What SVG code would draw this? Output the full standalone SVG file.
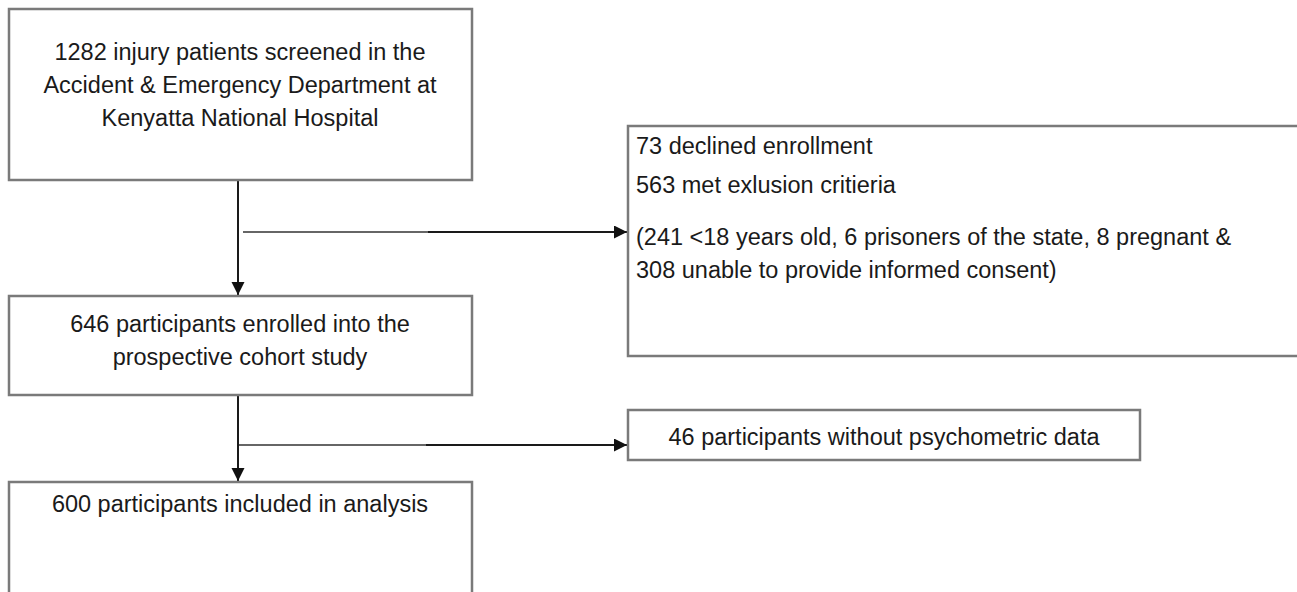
<svg xmlns="http://www.w3.org/2000/svg" width="1297" height="592" viewBox="0 0 1297 592">
<style>
.box{fill:#fff;stroke:#7a7a7a;stroke-width:2.5}
.t{font-family:"Liberation Sans",Arial,sans-serif;font-size:23.5px;fill:#1a1a1a}
.c{text-anchor:middle}
.ln{stroke:#1a1a1a;stroke-width:2;fill:none}
.lg{stroke:#666;stroke-width:2;fill:none}
</style>
<defs>
<marker id="ah" markerWidth="14" markerHeight="14" refX="13" refY="6.5" orient="auto" markerUnits="userSpaceOnUse">
<path d="M0,0 L13,6.5 L0,13 Z" fill="#111"/>
</marker>
</defs>
<rect width="1297" height="592" fill="#fff"/>
<g id="connectors">
<line class="ln" x1="238" y1="181" x2="238" y2="295" marker-end="url(#ah)"/>
<line class="lg" x1="243" y1="232" x2="428" y2="232"/>
<line class="ln" x1="428" y1="232" x2="627" y2="232" marker-end="url(#ah)"/>
<line class="ln" x1="238" y1="396" x2="238" y2="481" marker-end="url(#ah)"/>
<line class="lg" x1="239" y1="445" x2="426" y2="445"/>
<line class="ln" x1="426" y1="445" x2="627" y2="445" marker-end="url(#ah)"/>
</g>
<g id="n1">
<rect class="box" x="9" y="9" width="463" height="171"/>
<text class="t c" x="240" y="60">1282 injury patients screened in the</text>
<text class="t c" x="240" y="93">Accident &amp; Emergency Department at</text>
<text class="t c" x="240" y="126">Kenyatta National Hospital</text>
</g>
<g id="n2">
<rect class="box" x="628" y="126" width="680" height="230"/>
<text class="t" x="636" y="154">73 declined enrollment</text>
<text class="t" x="636" y="193">563 met exlusion critieria</text>
<text class="t" x="636" y="245">(241 &lt;18 years old, 6 prisoners of the state, 8 pregnant &amp;</text>
<text class="t" x="636" y="278">308 unable to provide informed consent)</text>
</g>
<g id="n3">
<rect class="box" x="9" y="296" width="463" height="99"/>
<text class="t c" x="240" y="332">646 participants enrolled into the</text>
<text class="t c" x="240" y="365">prospective cohort study</text>
</g>
<g id="n4">
<rect class="box" x="628" y="410" width="512" height="50"/>
<text class="t c" x="884" y="445">46 participants without psychometric data</text>
</g>
<g id="n5">
<rect class="box" x="9" y="482" width="463" height="130"/>
<text class="t c" x="240" y="512">600 participants included in analysis</text>
</g>
</svg>
